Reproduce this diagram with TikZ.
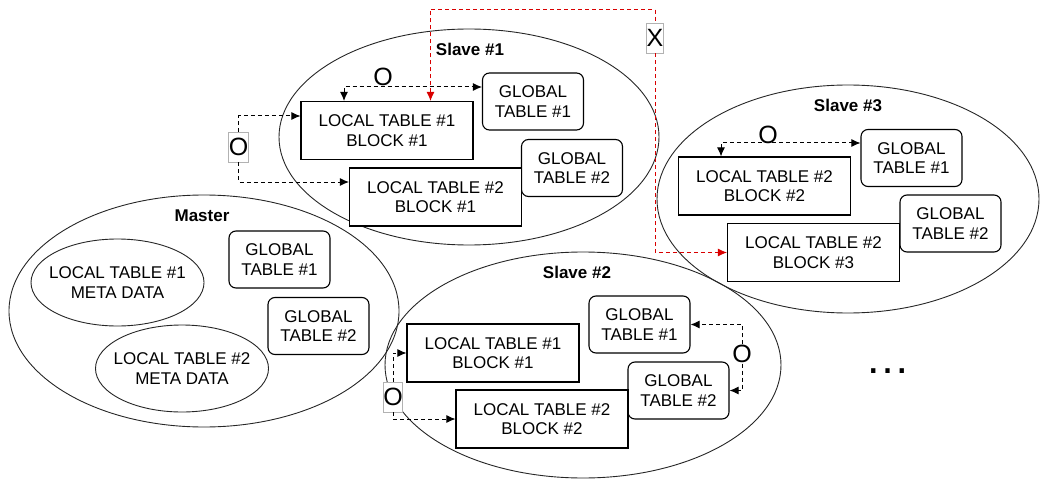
\documentclass[tikz,border=0pt]{standalone}
\usepackage{fontspec}
\setmainfont{Liberation Sans}
\usetikzlibrary{shapes.geometric,arrows.meta}

\begin{document}
\begin{tikzpicture}[x=1pt,y=-1pt,
    >={Latex[length=9pt,width=8pt]},
    cluster/.style={draw=black!85, ellipse, line width=0.9pt, inner sep=0pt},
    clustername/.style={font=\bfseries\fontsize{17}{20}\selectfont, inner sep=0pt},
    basebox/.style={draw, fill=white, line width=1.1pt, align=center, inner sep=0pt,
      font=\fontsize{17}{19.7}\selectfont},
    localbox/.style={basebox, minimum width=172pt, minimum height=58pt},
    globalbox/.style={basebox, rounded corners=7pt, minimum width=101pt, minimum height=57pt},
    metadata/.style={basebox, ellipse, draw=black!85, line width=0.9pt, inner xsep=-8pt,
      minimum width=173pt, minimum height=87pt},
    opmark/.style={font=\fontsize{25}{25}\selectfont, inner sep=0.5pt},
    opbox/.style={opmark, draw=black!30, fill=white, line width=0.6pt, inner sep=0pt,
      minimum width=17pt, minimum height=30pt},
    conn/.style={line width=1pt, dash pattern=on 4pt off 3pt},
    redconn/.style={conn, draw=red!85!black}]
  \useasboundingbox (0,0) rectangle (1040,481);

  % clusters
  \node[cluster, minimum width=380pt, minimum height=216pt] (slave1) at (469,137) {};
  \node[cluster, minimum width=382pt, minimum height=228pt] (slave3) at (848,199) {};
  \node[cluster, minimum width=390pt, minimum height=232pt] (master) at (204,311) {};
  \node[cluster, minimum width=396pt, minimum height=226pt] (slave2) at (583,365) {};
  \node[clustername] (slave1name) at (470,49) {Slave \#1};
  \node[clustername] (slave3name) at (848,105) {Slave \#3};
  \node[clustername] (mastername) at (202,216) {Master};
  \node[clustername] (slave2name) at (577,272) {Slave \#2};

  % slave 1
  \node[localbox] (s1l1) at (387,130.5) {LOCAL TABLE \#1\\BLOCK \#1};
  \node[globalbox] (s1g1) at (533,101.5) {GLOBAL\\TABLE \#1};
  \node[globalbox] (s1g2) at (572,168) {GLOBAL\\TABLE \#2};
  \node[localbox] (s1l2) at (435.5,197) {LOCAL TABLE \#2\\BLOCK \#1};

  % slave 3
  \node[localbox] (s3l2) at (764.5,186) {LOCAL TABLE \#2\\BLOCK \#2};
  \node[globalbox] (s3g1) at (911.5,158) {GLOBAL\\TABLE \#1};
  \node[globalbox] (s3g2) at (950.5,223.5) {GLOBAL\\TABLE \#2};
  \node[localbox] (s3l3) at (813.5,252.5) {LOCAL TABLE \#2\\BLOCK \#3};

  % master
  \node[metadata] (m1) at (117.5,282.5) {LOCAL TABLE \#1\\META DATA};
  \node[metadata] (m2) at (182,368.5) {LOCAL TABLE \#2\\META DATA};
  \node[globalbox] (mg1) at (279.5,259.5) {GLOBAL\\TABLE \#1};
  \node[globalbox] (mg2) at (318.5,326) {GLOBAL\\TABLE \#2};

  % slave 2
  \node[localbox] (s2l1) at (493,353) {LOCAL TABLE \#1\\BLOCK \#1};
  \node[globalbox] (s2g1) at (639.5,324.5) {GLOBAL\\TABLE \#1};
  \node[globalbox] (s2g2) at (678.5,390.5) {GLOBAL\\TABLE \#2};
  \node[localbox] (s2l2) at (542,419) {LOCAL TABLE \#2\\BLOCK \#2};

  % marks
  \node[opmark] (o1top) at (383,76.5) {O};
  \node[opbox] (o1left) at (238.5,147) {O};
  \node[opbox] (xmark) at (655,38) {X};
  \node[opmark] (o3top) at (768,135) {O};
  \node[opbox] (o2left) at (393,397) {O};
  \node[opmark] (o2right) at (742,354) {O};
  \node[font=\fontsize{45}{45}\selectfont, anchor=base, inner sep=0pt] (more) at (888,373) {…};

  % links
  \coordinate (xtop) at (655,9.3);
  \draw[redconn,<-] ([xshift=43.5pt]s1l1.north) |- (xtop) -- (xmark.north);
  \draw[redconn,->] (xmark.south) |- (s3l3.west);
  \draw[conn,<->] ([xshift=-43pt]s1l1.north) |- ([yshift=14.5pt]s1g1.west);
  \draw[conn,->] (o1left.north) |- ([yshift=14.5pt]s1l1.west);
  \draw[conn,->] (o1left.south) |- ([yshift=15pt]s1l2.west);
  \draw[conn,<->] ([xshift=-43.5pt]s3l2.north) |- ([yshift=15pt]s3g1.west);
  \draw[conn,->] (o2left.north) |- (s2l1.west);
  \draw[conn,->] (o2left.south) |- (s2l2.west);
  \draw[conn,->] (o2right.north) |- (s2g1.east);
  \draw[conn,->] (o2right.south) |- (s2g2.east);
\end{tikzpicture}
\end{document}
